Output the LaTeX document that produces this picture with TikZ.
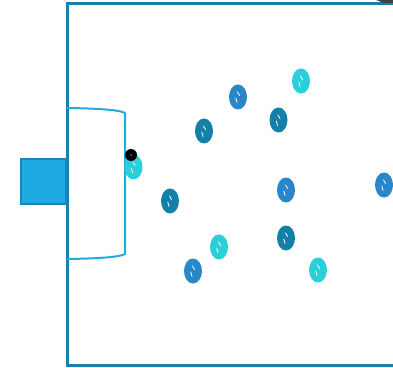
\documentclass[tikz,border=0pt]{standalone}
\usetikzlibrary{shapes.geometric}
\definecolor{fieldline}{HTML}{1A80A9}
\definecolor{boxline}{HTML}{22ABE2}
\definecolor{goalfill}{HTML}{1EAAE2}
\definecolor{goaledge}{HTML}{1886B5}
\definecolor{pcyan}{HTML}{2BCFD9}
\definecolor{pblue}{HTML}{2986C8}
\definecolor{pteal}{HTML}{1580A7}
\tikzset{
  x=1pt, y=1pt,
  player/.style={ellipse, fill=#1, minimum width=18pt, minimum height=25pt, inner sep=0pt,
    path picture={
      \draw[white, line width=0.8pt, line cap=round]
        ([shift={(-0.5,5)}]path picture bounding box.center) -- ++(2,-3.5)
        ([shift={(-2.2,-1)}]path picture bounding box.center) to[bend right=20] ++(1.2,-4.5);
    }},
}
\begin{document}
\begin{tikzpicture}
\useasboundingbox (0,0) rectangle (393,367);
\clip (0,0) rectangle (393,367);
% pitch outline, open to the right
\draw[fieldline, line width=3pt] (400,363.5) -- (67,363.5) -- (67,2) -- (400,2);
% top-right corner piece
\fill[black!75] (376,367) -- (398,367) -- (398,364) -- (384,364) -- cycle;
% goal
\node[draw=goaledge, fill=goalfill, line width=2pt, minimum width=45pt, minimum height=45pt,
  inner sep=0pt, anchor=east] (goal) at (67,185.5) {};
% penalty area
\coordinate (pa1) at (67,259);
\coordinate (pa2) at (125,254);
\coordinate (pa3) at (125,113);
\coordinate (pa4) at (67,108);
\draw[boxline, line width=2pt, line join=round] (pa1) .. controls (100,258.5) and (120,257) .. (pa2)
  -- (pa3) .. controls (120,110) and (100,108.5) .. (pa4);
% players
\node[player=pcyan] (c1) at (301,286) {};
\node[player=pblue] (b1) at (238,270) {};
\node[player=pteal] (t1) at (278.5,247) {};
\node[player=pteal] (t2) at (204,236) {};
\node[player=pcyan] (c2) at (133.5,200) {};
\node[player=pteal] (t3) at (170,166) {};
\node[player=pblue] (b2) at (286,177) {};
\node[player=pblue] (b3) at (384,182) {};
\node[player=pteal] (t4) at (286,129) {};
\node[player=pcyan] (c3) at (219,120) {};
\node[player=pblue] (b4) at (193,96) {};
\node[player=pcyan] (c4) at (318,97) {};
% ball
\node[circle, fill=black, minimum size=12pt, inner sep=0pt] (ball) at (131,212) {};
\fill[black!60] (ball.center) circle (1pt);
\end{tikzpicture}
\end{document}
